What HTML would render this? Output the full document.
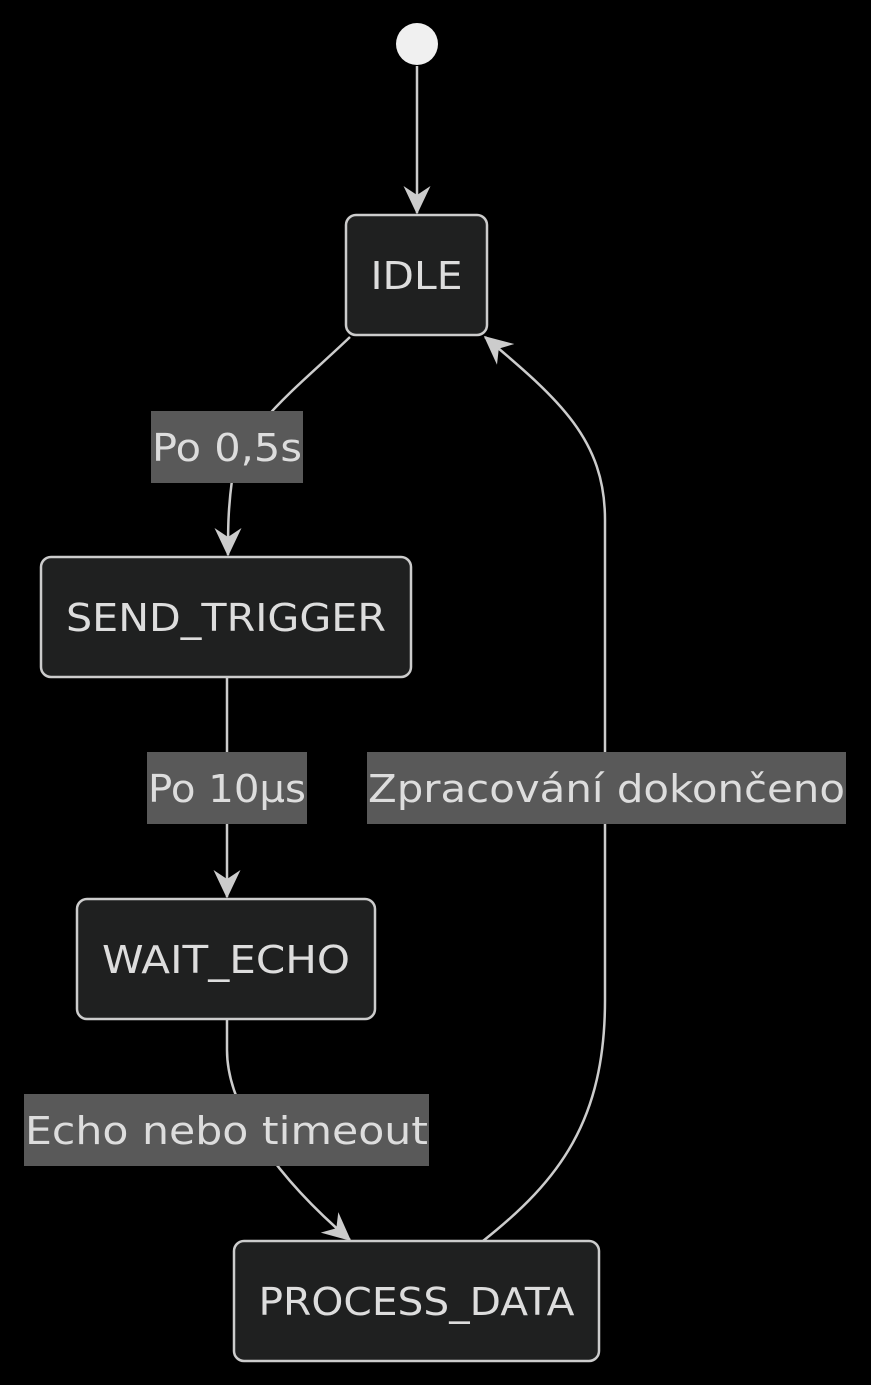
<!DOCTYPE html>
<html><head><meta charset="utf-8"><style>
html,body{margin:0;padding:0;background:#000;}
svg{display:block}
text{font-family:"DejaVu Sans","Liberation Sans",sans-serif;fill:#ddd;}
</style></head><body>
<svg width="871" height="1385" viewBox="0 0 871 1385" xmlns="http://www.w3.org/2000/svg">
<defs>
<marker id="a" viewBox="0 0 20 20" refX="18" refY="10" markerWidth="30" markerHeight="30" markerUnits="userSpaceOnUse" orient="auto">
<path d="M0,1 L19,10 L0,19 L6,10 Z" fill="#ccc"/>
</marker>
</defs>
<g fill="none" stroke="#ccc" stroke-width="2.5">
<path d="M417,66 L417,213" marker-end="url(#a)"/>
<path d="M350,337 C300,385 240,430 232,480 C228,510 228,530 228,555" marker-end="url(#a)"/>
<path d="M227,677 L227,897" marker-end="url(#a)"/>
<path d="M227,1019 L227,1050 C227,1110 280,1180 350,1240" marker-end="url(#a)"/>
<path d="M483,1241 C560,1180 605,1120 605,1000 L605,520 C605,440 560,400 485,337" marker-end="url(#a)"/>
</g>
<circle cx="417" cy="44" r="21" fill="#f0f0f0"/>
<g fill="#1f2020" stroke="#ccc" stroke-width="2.5">
<rect x="346" y="215" width="141" height="120" rx="10"/>
<rect x="41" y="557" width="370" height="120" rx="10"/>
<rect x="77" y="899" width="298" height="120" rx="10"/>
<rect x="234" y="1241" width="365" height="120" rx="10"/>
</g>
<g fill="#595959">
<rect x="151" y="411" width="152" height="72"/>
<rect x="147" y="752" width="160" height="72"/>
<rect x="24" y="1094" width="405" height="72"/>
<rect x="367" y="752" width="479" height="72"/>
</g>
<g font-size="38" text-anchor="middle">
<text x="416.5" y="289" textLength="92" lengthAdjust="spacingAndGlyphs" font-weight="500">IDLE</text>
<text x="226" y="631" textLength="320" lengthAdjust="spacingAndGlyphs" font-weight="500">SEND_TRIGGER</text>
<text x="226" y="973" textLength="248" lengthAdjust="spacingAndGlyphs" font-weight="500">WAIT_ECHO</text>
<text x="416.5" y="1315" textLength="316" lengthAdjust="spacingAndGlyphs" font-weight="500">PROCESS_DATA</text>
<text x="227" y="461" textLength="150" lengthAdjust="spacingAndGlyphs" fill="#ccc">Po 0,5s</text>
<text x="227" y="802" textLength="158" lengthAdjust="spacingAndGlyphs" fill="#ccc">Po 10µs</text>
<text x="226.5" y="1144" textLength="403" lengthAdjust="spacingAndGlyphs" fill="#ccc">Echo nebo timeout</text>
<text x="606.5" y="802" textLength="477" lengthAdjust="spacingAndGlyphs" fill="#ccc">Zpracování dokončeno</text>
</g>
</svg>
</body></html>
